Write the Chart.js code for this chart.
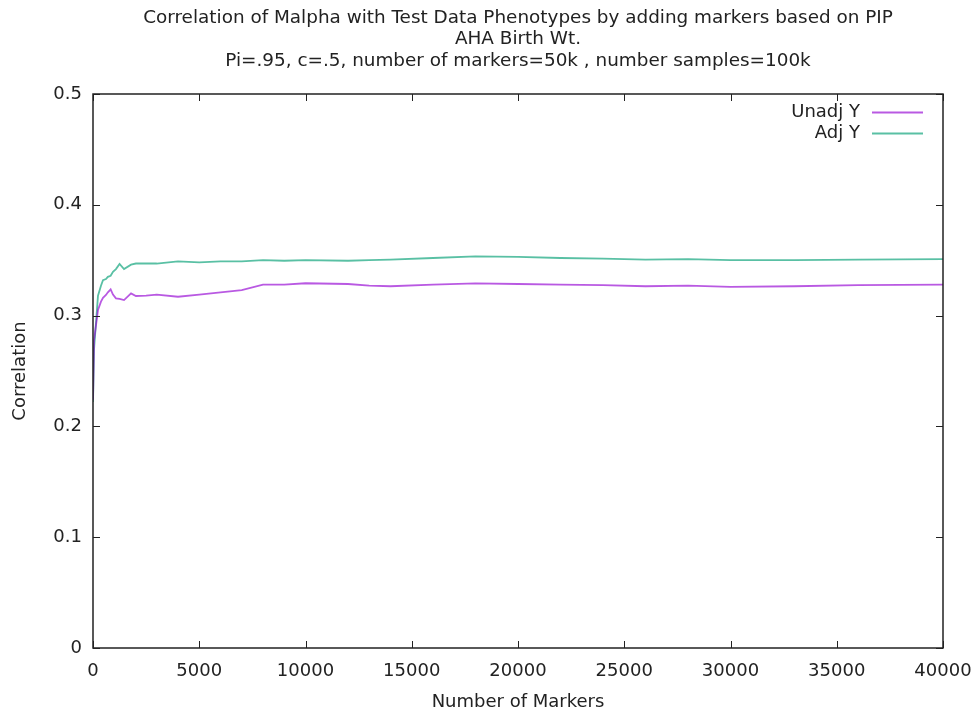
<!DOCTYPE html>
<html>
<head>
<meta charset="utf-8">
<script src="https://cdn.jsdelivr.net/npm/chart.js@4/dist/chart.umd.min.js"></script>
<style>
  html, body { margin: 0; padding: 0; background: #fff; }
  #wrap { width: 979px; height: 715px; }
</style>
</head>
<body>
<div id="wrap"><canvas id="corrChart"></canvas></div>
<script>
// 数据 - 标记数量与相关系数
var titleLines = [
    "Correlation of Malpha with Test Data Phenotypes by adding markers based on PIP",
    "AHA Birth Wt.",
    "Pi=.95, c=.5, number of markers=50k , number samples=100k"
];
var seriesNames = ["Unadj Y", "Adj Y"];
var markers = [0, 50, 235, 375, 470, 610, 700, 830, 940, 1080, 1250, 1460, 1790, 2020, 2500,
    3000, 4000, 5000, 6000, 7000, 8000, 9000, 10000, 12000, 13000, 14000, 16000, 18000,
    20000, 22000, 24000, 26000, 28000, 30000, 33000, 36000, 40000];
var unadjY = [0.224, 0.278, 0.305, 0.3126, 0.316, 0.3186, 0.321, 0.3237, 0.319, 0.3156, 0.315,
    0.314, 0.320, 0.3177, 0.318, 0.319, 0.317, 0.319, 0.321, 0.323, 0.328, 0.328, 0.3292,
    0.3285, 0.327, 0.3265, 0.328, 0.329, 0.3285, 0.328, 0.3275, 0.3265, 0.327, 0.326,
    0.3265, 0.3275, 0.328];
var adjY = [0.222, 0.27, 0.318, 0.327, 0.332, 0.333, 0.335, 0.336, 0.3396, 0.342, 0.3466,
    0.342, 0.346, 0.347, 0.347, 0.347, 0.349, 0.348, 0.349, 0.349, 0.350, 0.3495, 0.350,
    0.3495, 0.350, 0.3505, 0.352, 0.3535, 0.353, 0.352, 0.3515, 0.3505, 0.351, 0.350,
    0.350, 0.3505, 0.351];
var xTickStep = 5000;
var yTickStep = 0.1;

var lineColors = ['rgba(148, 0, 211, 0.65)', 'rgba(0, 158, 115, 0.65)'];
var FONT = "'DejaVu Sans', sans-serif";
var FSIZE = 18;

function toPoints(ys) {
    return markers.map(function (m, i) { return { x: m, y: ys[i] }; });
}

// 标题(居中于绘图区)、边框、向内刻度和gnuplot风格图例
var gnuplotFrame = {
    id: 'gnuplotFrame',
    afterDraw: function (chart) {
        var ctx = chart.ctx;
        var a = chart.chartArea;
        var xs = chart.scales.x, ys = chart.scales.y;
        var tl = 7;
        ctx.save();
        //标题
        ctx.font = '18.4px ' + FONT;
        ctx.fillStyle = '#222';
        ctx.textAlign = 'center';
        ctx.textBaseline = 'middle';
        var cx = (a.left + a.right) / 2;
        titleLines.forEach(function (t, i) {
            ctx.fillText(t, cx, 18 + i * 21.5);
        });

        ctx.strokeStyle = '#222';
        ctx.lineWidth = 1.5;
        ctx.strokeRect(a.left, a.top, a.right - a.left, a.bottom - a.top);
        ctx.lineWidth = 1;
        ctx.beginPath();
        xs.ticks.forEach(function (t) {
            var px = Math.round(xs.getPixelForValue(t.value)) + 0.5;
            ctx.moveTo(px, a.bottom); ctx.lineTo(px, a.bottom - tl);
            ctx.moveTo(px, a.top); ctx.lineTo(px, a.top + tl);
        });
        ys.ticks.forEach(function (t) {
            var py = Math.round(ys.getPixelForValue(t.value)) + 0.5;
            ctx.moveTo(a.left, py); ctx.lineTo(a.left + tl, py);
            ctx.moveTo(a.right, py); ctx.lineTo(a.right - tl, py);
        });
        ctx.stroke();

        //图例
        ctx.font = FSIZE + 'px ' + FONT;
        ctx.textAlign = 'right';
        chart.data.datasets.forEach(function (ds, i) {
            var y = a.top + 18 + i * 21;
            ctx.fillStyle = '#222';
            ctx.fillText(ds.label, a.right - 83, y);
            ctx.strokeStyle = ds.borderColor;
            ctx.lineWidth = 2;
            ctx.beginPath();
            ctx.moveTo(a.right - 71, y + 0.5);
            ctx.lineTo(a.right - 20, y + 0.5);
            ctx.stroke();
        });
        ctx.restore();
    }
};

var config = {
    type: 'line',
    data: {
        datasets: [{
            label: seriesNames[0],
            data: toPoints(unadjY),
            borderColor: lineColors[0],
            borderWidth: 1.8,
            pointRadius: 0,
            tension: 0,
            fill: false
        }, {
            label: seriesNames[1],
            data: toPoints(adjY),
            borderColor: lineColors[1],
            borderWidth: 1.8,
            pointRadius: 0,
            tension: 0,
            fill: false
        }]
    },
    options: {
        responsive: true,
        maintainAspectRatio: false,
        animation: false,
        layout: { padding: { left: 0, right: 36, top: 94, bottom: 0 } },
        plugins: {
            legend: { display: false },
            tooltip: { enabled: false },
            title: { display: false }
        },
        scales: {
            x: {
                type: 'linear',
                min: 0,
                max: 40000,
                grid: { display: false, drawTicks: false },
                border: { display: false },
                ticks: {
                    stepSize: xTickStep,
                    padding: 13,
                    color: '#222',
                    font: { family: FONT, size: FSIZE },
                    maxRotation: 0,
                    callback: function (v) { return String(v); }
                },
                title: {
                    display: true,
                    text: 'Number of Markers',
                    color: '#222',
                    font: { family: FONT, size: FSIZE },
                    padding: { top: 0, bottom: 2.2 }
                },
                afterFit: function (s) { s.height = 67; s.paddingLeft = 0; s.paddingRight = 0; }
            },
            y: {
                min: 0,
                max: 0.5,
                grid: { display: false, drawTicks: false },
                border: { display: false },
                ticks: {
                    stepSize: yTickStep,
                    padding: 11,
                    color: '#222',
                    font: { family: FONT, size: FSIZE }
                },
                title: {
                    display: true,
                    text: 'Correlation',
                    color: '#222',
                    font: { family: FONT, size: FSIZE },
                    padding: { top: 9.2, bottom: 0 }
                },
                afterFit: function (s) { s.width = 93; s.paddingTop = 0; s.paddingBottom = 0; }
            }
        }
    },
    plugins: [gnuplotFrame]
};

var myChart = new Chart(document.getElementById('corrChart'), config);
</script>
</body>
</html>
